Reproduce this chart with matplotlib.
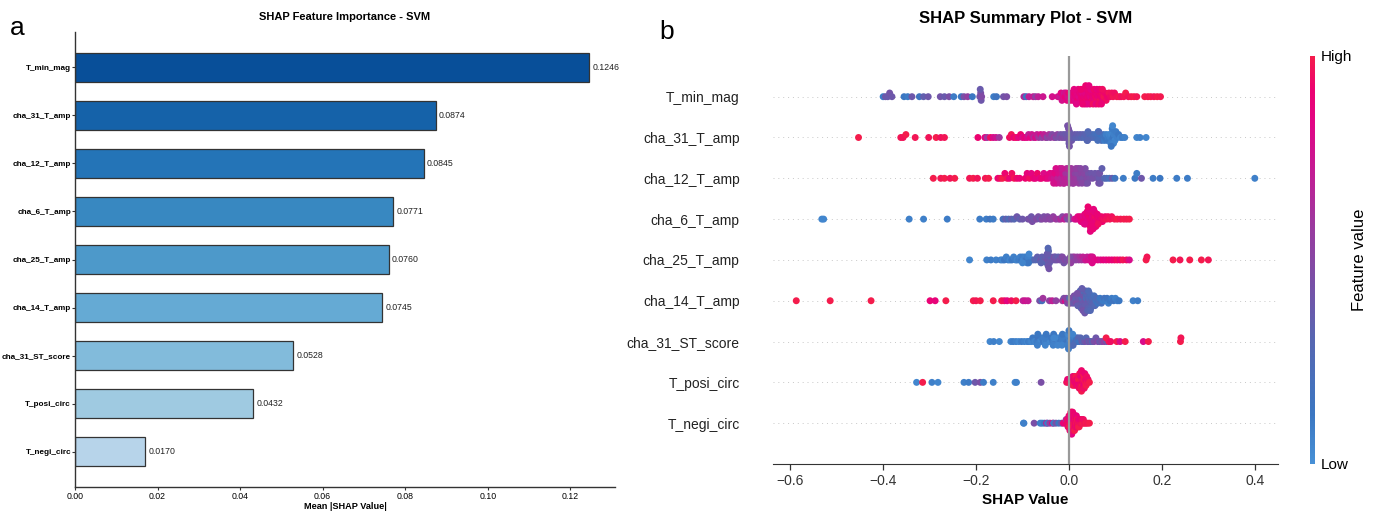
#
# SHAP feature importance (bar) and SHAP summary (beeswarm) for the SVM model.
#

import numpy as np
import matplotlib
matplotlib.use('Agg')
import matplotlib.pyplot as plt
from matplotlib.colors import LinearSegmentedColormap, Normalize
from matplotlib.cm import ScalarMappable

plt.rcParams['font.family'] = ['Liberation Sans', 'DejaVu Sans']

features = ['T_min_mag', 'cha_31_T_amp', 'cha_12_T_amp', 'cha_6_T_amp', 'cha_25_T_amp',
            'cha_14_T_amp', 'cha_31_ST_score', 'T_posi_circ', 'T_negi_circ']
mean_abs_shap = [0.1246, 0.0874, 0.0845, 0.0771, 0.0760, 0.0745, 0.0528, 0.0432, 0.0170]

# (shap value, normalised feature value)
pts_T_min_mag = [
    (-0.400, 0.10), (-0.395, 0.40), (-0.390, 0.38), (-0.386, 0.42), (-0.381, 0.40),
    (-0.355, 0.12), (-0.347, 0.10), (-0.338, 0.40), (-0.322, 0.15), (-0.313, 0.35),
    (-0.303, 0.40), (-0.277, 0.42), (-0.268, 0.38), (-0.258, 0.45), (-0.248, 0.10),
    (-0.232, 0.12), (-0.226, 0.45), (-0.218, 0.55), (-0.208, 0.12), (-0.192, 0.42),
    (-0.190, 0.45), (-0.189, 0.40), (-0.188, 0.48), (-0.191, 0.38), (-0.162, 0.10),
    (-0.156, 0.15), (-0.141, 0.42), (-0.134, 0.45), (-0.097, 0.65), (-0.092, 0.15),
    (-0.086, 0.70), (-0.077, 0.72), (-0.072, 0.55), (-0.066, 0.70), (-0.056, 0.75),
    (-0.036, 0.78), (-0.024, 0.80), (-0.020, 0.72), (-0.017, 0.85), (-0.015, 0.78),
    (-0.012, 0.82), (-0.010, 0.75), (-0.008, 0.88), (-0.006, 0.80), (-0.004, 0.85),
    (-0.002, 0.78), (0.000, 0.90), (0.002, 0.82), (0.004, 0.86), (0.006, 0.80),
    (0.008, 0.88), (0.010, 0.84), (0.012, 0.90), (0.013, 0.82), (0.015, 0.87),
    (0.017, 0.85), (0.019, 0.92), (0.021, 0.83), (0.023, 0.88), (0.025, 0.86),
    (0.027, 0.90), (0.028, 0.84), (0.030, 0.92), (0.031, 0.86), (0.033, 0.89),
    (0.035, 0.85), (0.037, 0.93), (0.038, 0.87), (0.040, 0.90), (0.042, 0.88),
    (0.044, 0.92), (0.046, 0.86), (0.048, 0.90), (0.050, 0.94), (0.051, 0.88),
    (0.053, 0.91), (0.055, 0.87), (0.057, 0.93), (0.059, 0.90), (0.061, 0.95),
    (0.063, 0.89), (0.065, 0.92), (0.067, 0.96), (0.069, 0.91), (0.071, 0.94),
    (0.073, 0.90), (0.075, 0.97), (0.078, 0.93), (0.080, 0.95), (0.083, 0.92),
    (0.086, 0.97), (0.089, 0.94), (0.092, 0.96), (0.095, 0.98), (0.098, 0.95),
    (0.020, 0.88), (0.026, 0.92), (0.034, 0.86), (0.041, 0.90), (0.047, 0.85),
    (0.054, 0.93), (0.060, 0.88), (0.066, 0.91), (0.072, 0.95), (0.045, 0.89),
    (0.039, 0.84), (0.052, 0.96), (0.058, 0.87), (0.064, 0.94), (0.070, 0.90),
    (0.011, 0.86), (0.016, 0.83), (0.029, 0.90), (0.036, 0.92), (0.043, 0.87),
    (0.103, 0.97), (0.108, 0.99), (0.112, 0.96), (0.118, 0.98), (0.122, 1.00),
    (0.128, 0.97), (0.134, 0.99), (0.140, 1.00), (0.146, 0.98), (0.163, 1.00),
    (0.170, 0.99), (0.176, 1.00), (0.183, 0.98), (0.190, 1.00), (0.197, 0.99),
]

pts_cha_31_T_amp = [
    (-0.453, 1.00), (-0.362, 0.98), (-0.357, 0.97), (-0.351, 1.00), (-0.331, 0.98),
    (-0.302, 0.97), (-0.286, 1.00), (-0.276, 0.96), (-0.268, 0.98), (-0.196, 0.92),
    (-0.181, 0.85), (-0.176, 0.60), (-0.169, 0.95), (-0.163, 0.80), (-0.157, 0.75),
    (-0.150, 0.60), (-0.128, 0.95), (-0.124, 0.97), (-0.119, 0.90), (-0.114, 0.95),
    (-0.109, 0.85), (-0.104, 0.92), (-0.100, 0.80), (-0.095, 0.88), (-0.090, 0.82),
    (-0.087, 0.70), (-0.083, 0.85), (-0.080, 0.75), (-0.076, 0.65), (-0.072, 0.80),
    (-0.069, 0.72), (-0.065, 0.60), (-0.061, 0.78), (-0.058, 0.55), (-0.054, 0.70),
    (-0.050, 0.65), (-0.047, 0.50), (-0.043, 0.62), (-0.040, 0.55), (-0.036, 0.48),
    (-0.032, 0.58), (-0.028, 0.45), (-0.025, 0.52), (-0.021, 0.45), (-0.018, 0.42),
    (-0.015, 0.48), (-0.012, 0.40), (-0.010, 0.45), (-0.007, 0.38), (-0.004, 0.42),
    (-0.002, 0.40), (0.000, 0.44), (0.001, 0.38), (0.002, 0.42), (0.004, 0.36),
    (0.006, 0.40), (0.009, 0.35), (0.012, 0.38), (0.015, 0.33), (0.018, 0.36),
    (0.021, 0.32), (0.024, 0.35), (0.027, 0.30), (0.030, 0.34), (0.033, 0.28),
    (0.036, 0.32), (0.039, 0.26), (0.042, 0.30), (0.045, 0.24), (0.048, 0.28),
    (0.051, 0.22), (0.054, 0.26), (0.057, 0.20), (0.060, 0.24), (0.062, 0.18),
    (0.065, 0.22), (0.067, 0.15), (0.070, 0.20), (0.072, 0.12), (0.074, 0.18),
    (0.076, 0.10), (0.078, 0.15), (0.080, 0.08), (0.082, 0.12), (0.084, 0.10),
    (0.086, 0.06), (0.088, 0.12), (0.089, 0.08), (0.091, 0.05), (0.092, 0.10),
    (0.094, 0.06), (0.095, 0.12), (0.097, 0.08), (0.099, 0.05), (0.101, 0.10),
    (0.104, 0.08), (0.107, 0.12), (0.111, 0.06), (0.115, 0.10), (0.120, 0.08),
    (0.000, 0.40), (-0.001, 0.45), (0.001, 0.42), (0.090, 0.08), (0.093, 0.10),
    (0.096, 0.06), (0.091, 0.12), (0.094, 0.05), (0.062, 0.20), (0.063, 0.16),
    (0.064, 0.25), (0.040, 0.30), (0.041, 0.28), (-0.003, 0.44),
    (0.146, 0.06), (0.153, 0.08), (0.166, 0.05),
]

pts_cha_12_T_amp = [
    (-0.292, 1.00), (-0.276, 0.98), (-0.268, 1.00), (-0.256, 0.97), (-0.246, 1.00),
    (-0.214, 0.98), (-0.206, 1.00), (-0.197, 0.97), (-0.180, 0.98), (-0.173, 1.00),
    (-0.153, 0.90), (-0.148, 0.95), (-0.143, 1.00), (-0.138, 0.92), (-0.133, 0.97),
    (-0.128, 0.90), (-0.123, 0.95), (-0.118, 0.98), (-0.112, 0.93), (-0.106, 0.90),
    (-0.094, 0.92), (-0.090, 0.88), (-0.085, 0.95), (-0.081, 0.85), (-0.076, 0.90),
    (-0.072, 0.87), (-0.068, 0.93), (-0.063, 0.85), (-0.059, 0.90), (-0.054, 0.82),
    (-0.050, 0.88), (-0.045, 0.85), (-0.041, 0.85), (-0.038, 0.80), (-0.035, 0.82),
    (-0.032, 0.75), (-0.030, 0.85), (-0.027, 0.78), (-0.024, 0.70), (-0.022, 0.80),
    (-0.019, 0.72), (-0.017, 0.68), (-0.014, 0.75), (-0.012, 0.65), (-0.009, 0.70),
    (-0.007, 0.62), (-0.004, 0.68), (-0.002, 0.60), (0.001, 0.65), (0.003, 0.58),
    (0.006, 0.62), (0.008, 0.55), (0.011, 0.60), (0.013, 0.52), (0.016, 0.58),
    (0.018, 0.50), (0.021, 0.55), (0.024, 0.48), (0.027, 0.52), (0.030, 0.45),
    (0.033, 0.50), (0.036, 0.45), (0.039, 0.48), (0.042, 0.42), (0.045, 0.46),
    (0.048, 0.40), (0.051, 0.44), (0.056, 0.40), (0.062, 0.42), (0.063, 0.40),
    (0.064, 0.45), (0.065, 0.38), (0.066, 0.42), (0.067, 0.40), (0.071, 0.35),
    (0.076, 0.30), (0.081, 0.25), (0.087, 0.20), (0.093, 0.38), (0.099, 0.15),
    (-0.020, 0.75), (-0.010, 0.68), (0.000, 0.62), (0.010, 0.58), (0.020, 0.52),
    (0.028, 0.50), (0.035, 0.46), (-0.028, 0.80), (-0.005, 0.66), (0.005, 0.60),
    (0.015, 0.55), (0.025, 0.50), (-0.015, 0.72), (0.040, 0.44), (-0.033, 0.78),
    (0.117, 0.10), (0.142, 0.12), (0.146, 0.10), (0.156, 0.40), (0.181, 0.10),
    (0.196, 0.12), (0.232, 0.10), (0.255, 0.10), (0.400, 0.08),
]

pts_cha_6_T_amp = [
    (-0.532, 0.05), (-0.528, 0.05), (-0.344, 0.08), (-0.313, 0.08), (-0.262, 0.10),
    (-0.192, 0.10), (-0.178, 0.10), (-0.170, 0.15), (-0.163, 0.10), (-0.142, 0.20),
    (-0.136, 0.35), (-0.130, 0.25), (-0.124, 0.35), (-0.118, 0.30), (-0.112, 0.40),
    (-0.106, 0.35), (-0.100, 0.40), (-0.088, 0.42), (-0.084, 0.45), (-0.081, 0.40),
    (-0.079, 0.45), (-0.075, 0.42), (-0.070, 0.48), (-0.066, 0.45), (-0.062, 0.40),
    (-0.058, 0.50), (-0.054, 0.45), (-0.050, 0.50), (-0.046, 0.48), (-0.042, 0.52),
    (-0.038, 0.50), (-0.034, 0.55), (-0.028, 0.60), (-0.022, 0.55), (-0.018, 0.65),
    (-0.014, 0.50), (-0.010, 0.70), (-0.006, 0.62), (-0.003, 0.45), (0.000, 0.60),
    (0.002, 0.50), (0.012, 0.75), (0.016, 0.80), (0.019, 0.85), (0.022, 0.82),
    (0.024, 0.88), (0.026, 0.85), (0.028, 0.90), (0.030, 0.82), (0.032, 0.88),
    (0.034, 0.86), (0.035, 0.90), (0.037, 0.84), (0.038, 0.88), (0.040, 0.92),
    (0.041, 0.85), (0.043, 0.90), (0.044, 0.87), (0.045, 0.93), (0.047, 0.88),
    (0.048, 0.90), (0.050, 0.86), (0.051, 0.92), (0.053, 0.88), (0.054, 0.90),
    (0.056, 0.94), (0.057, 0.87), (0.059, 0.91), (0.060, 0.89), (0.062, 0.93),
    (0.064, 0.90), (0.066, 0.95), (0.068, 0.91), (0.070, 0.94), (0.072, 0.92),
    (0.036, 0.87), (0.039, 0.90), (0.042, 0.88), (0.046, 0.91), (0.049, 0.89),
    (0.052, 0.93), (0.055, 0.86), (0.058, 0.92), (0.044, 0.85), (0.047, 0.94),
    (0.050, 0.90), (0.053, 0.87), (0.041, 0.92), (0.061, 0.90), (0.033, 0.84),
    (0.063, 0.95), (0.046, 0.86), (0.052, 0.90),
    (0.075, 0.96), (0.078, 0.93), (0.081, 0.97), (0.084, 0.95), (0.088, 0.98),
    (0.092, 0.96), (0.098, 0.98), (0.104, 1.00), (0.111, 0.98), (0.118, 1.00),
    (0.124, 0.99), (0.130, 1.00),
]

pts_cha_25_T_amp = [
    (-0.214, 0.05), (-0.177, 0.08), (-0.168, 0.10), (-0.157, 0.08), (-0.147, 0.10),
    (-0.143, 0.05), (-0.139, 0.12), (-0.135, 0.08), (-0.131, 0.10), (-0.127, 0.05),
    (-0.123, 0.12), (-0.119, 0.08), (-0.115, 0.10), (-0.112, 0.06), (-0.108, 0.10),
    (-0.105, 0.08), (-0.102, 0.12), (-0.100, 0.10), (-0.098, 0.05), (-0.095, 0.08),
    (-0.092, 0.15), (-0.089, 0.10), (-0.085, 0.20), (-0.081, 0.12), (-0.077, 0.25),
    (-0.090, 0.10), (-0.088, 0.08), (-0.087, 0.12), (-0.086, 0.05), (-0.100, 0.06),
    (-0.072, 0.30), (-0.068, 0.35), (-0.065, 0.30), (-0.061, 0.40), (-0.058, 0.35),
    (-0.055, 0.30), (-0.052, 0.40), (-0.050, 0.35), (-0.048, 0.30), (-0.046, 0.42),
    (-0.044, 0.38), (-0.042, 0.35), (-0.040, 0.40), (-0.038, 0.32), (-0.035, 0.40),
    (-0.046, 0.35), (-0.045, 0.40), (-0.044, 0.32), (-0.047, 0.38), (-0.043, 0.42),
    (-0.045, 0.30), (-0.060, 0.32), (-0.030, 0.40), (-0.015, 0.44),
    (-0.032, 0.45), (-0.029, 0.38), (-0.026, 0.42), (-0.023, 0.35), (-0.020, 0.45),
    (-0.017, 0.40), (-0.014, 0.48), (-0.011, 0.42), (-0.008, 0.50), (-0.005, 0.45),
    (0.002, 0.50), (0.005, 0.45), (0.008, 0.55), (0.010, 0.50), (0.012, 0.60),
    (0.003, 0.48), (0.004, 0.55), (0.050, 0.80), (0.052, 0.75),
    (0.015, 0.52), (0.018, 0.58), (0.021, 0.55), (0.024, 0.62), (0.027, 0.60),
    (0.030, 0.70), (0.033, 0.62), (0.036, 0.75), (0.039, 0.70), (0.042, 0.78),
    (0.045, 0.72), (0.048, 0.80), (0.050, 0.82), (0.051, 0.78), (0.056, 0.82),
    (0.062, 0.85), (0.068, 0.80), (0.074, 0.88), (0.080, 0.85), (0.086, 0.90),
    (0.092, 0.88), (0.098, 0.92), (0.104, 0.95), (0.110, 0.90), (0.116, 0.98),
    (0.124, 0.95), (0.130, 0.80), (0.166, 1.00), (0.168, 0.98), (0.224, 1.00),
    (0.239, 0.98), (0.260, 1.00), (0.285, 1.00), (0.300, 0.98),
]

pts_cha_14_T_amp = [
    (-0.587, 1.00), (-0.514, 1.00), (-0.426, 1.00), (-0.299, 0.90), (-0.288, 0.88),
    (-0.265, 1.00), (-0.206, 1.00), (-0.200, 0.98), (-0.191, 1.00), (-0.163, 1.00),
    (-0.145, 0.98), (-0.139, 0.95), (-0.133, 0.85), (-0.124, 0.95), (-0.114, 1.00),
    (-0.099, 0.70), (-0.094, 0.75), (-0.088, 0.72), (-0.063, 0.45), (-0.058, 0.20),
    (-0.056, 0.60), (-0.042, 0.55), (-0.036, 0.70), (-0.028, 0.55), (-0.014, 0.60),
    (-0.011, 0.45), (-0.008, 0.80), (-0.006, 0.50), (-0.003, 0.45), (-0.001, 0.55),
    (0.001, 0.30), (0.003, 0.50), (0.005, 0.42), (0.007, 0.48), (0.009, 0.38),
    (0.011, 0.45), (0.013, 0.40), (0.015, 0.35), (0.016, 0.45), (0.018, 0.40),
    (0.019, 0.30), (0.021, 0.42), (0.022, 0.38), (0.024, 0.45), (0.025, 0.35),
    (0.027, 0.40), (0.028, 0.30), (0.030, 0.38), (0.031, 0.42), (0.033, 0.35),
    (0.034, 0.30), (0.036, 0.40), (0.037, 0.25), (0.039, 0.35), (0.040, 0.30),
    (0.042, 0.38), (0.043, 0.28), (0.045, 0.33), (0.046, 0.22), (0.048, 0.30),
    (0.020, 0.36), (0.023, 0.40), (0.026, 0.32), (0.029, 0.38), (0.032, 0.30),
    (0.035, 0.36), (0.038, 0.28), (0.041, 0.33), (0.044, 0.25), (0.047, 0.30),
    (0.024, 0.28), (0.030, 0.42), (0.036, 0.34), (0.042, 0.26), (0.028, 0.36),
    (0.034, 0.40), (0.040, 0.32), (0.046, 0.28), (0.018, 0.44), (0.052, 0.22),
    (0.050, 0.25), (0.052, 0.32), (0.054, 0.20), (0.056, 0.28), (0.058, 0.18),
    (0.060, 0.25), (0.062, 0.15), (0.064, 0.22), (0.067, 0.12), (0.070, 0.20),
    (0.073, 0.10), (0.076, 0.18), (0.079, 0.10), (0.082, 0.15), (0.085, 0.08),
    (0.088, 0.12), (0.092, 0.10), (0.096, 0.15), (0.100, 0.08), (0.104, 0.10),
    (0.108, 0.12), (0.138, 0.08), (0.148, 0.10),
]

pts_cha_31_ST_score = [
    (-0.170, 0.05), (-0.162, 0.08), (-0.150, 0.05), (-0.125, 0.05), (-0.120, 0.10),
    (-0.114, 0.08), (-0.108, 0.05), (-0.102, 0.10), (-0.096, 0.08), (-0.090, 0.05),
    (-0.087, 0.10), (-0.084, 0.08), (-0.081, 0.05), (-0.078, 0.12), (-0.075, 0.08),
    (-0.072, 0.05), (-0.069, 0.10), (-0.066, 0.15), (-0.063, 0.08), (-0.060, 0.05),
    (-0.058, 0.10), (-0.055, 0.12), (-0.053, 0.08), (-0.050, 0.05), (-0.048, 0.10),
    (-0.045, 0.15), (-0.043, 0.08), (-0.040, 0.05), (-0.038, 0.12), (-0.035, 0.10),
    (-0.033, 0.08), (-0.030, 0.05), (-0.028, 0.15), (-0.025, 0.10), (-0.023, 0.08),
    (-0.020, 0.05), (-0.018, 0.12), (-0.015, 0.10), (-0.013, 0.20), (-0.010, 0.08),
    (-0.008, 0.05), (-0.006, 0.12), (-0.004, 0.10), (-0.002, 0.15), (0.000, 0.08),
    (0.002, 0.05), (0.004, 0.12), (0.006, 0.20), (0.008, 0.10), (0.010, 0.15),
    (0.012, 0.08), (0.014, 0.25), (0.016, 0.12), (0.018, 0.20), (0.020, 0.30),
    (0.022, 0.15), (-0.052, 0.10), (-0.051, 0.06), (-0.049, 0.12), (-0.034, 0.08),
    (-0.033, 0.12), (-0.032, 0.05), (-0.016, 0.10), (-0.015, 0.06), (-0.014, 0.12),
    (-0.003, 0.08), (-0.002, 0.05), (-0.001, 0.10), (0.000, 0.12), (0.007, 0.15),
    (0.008, 0.06), (0.009, 0.25), (-0.068, 0.08), (-0.067, 0.12), (-0.024, 0.06),
    (0.025, 0.30), (0.028, 0.35), (0.031, 0.25), (0.034, 0.40), (0.037, 0.30),
    (0.040, 0.45), (0.043, 0.35), (0.046, 0.40), (0.050, 0.30), (0.054, 0.45),
    (0.058, 0.40), (0.062, 0.50), (0.066, 0.38), (0.071, 0.45), (0.076, 0.55),
    (0.081, 0.40), (0.080, 1.00), (0.086, 0.98), (0.090, 0.95), (0.103, 1.00),
    (0.110, 0.80), (0.121, 1.00), (0.160, 0.80), (0.171, 1.00), (0.240, 1.00),
    (0.241, 0.98),
]

pts_T_posi_circ = [
    (-0.328, 0.05), (-0.315, 1.00), (-0.295, 0.08), (-0.282, 0.05), (-0.226, 0.08),
    (-0.216, 0.10), (-0.202, 0.40), (-0.191, 0.45), (-0.184, 0.10), (-0.163, 0.08),
    (-0.116, 0.05), (-0.113, 0.08), (-0.060, 0.45),
    (-0.005, 0.95), (-0.003, 0.90), (-0.001, 0.98), (0.001, 0.92), (0.003, 0.96),
    (0.004, 0.90), (0.005, 1.00), (0.007, 0.94), (0.008, 0.98), (0.008, 0.90),
    (0.009, 0.96), (0.011, 0.92), (0.012, 1.00), (0.012, 0.95), (0.013, 0.90),
    (0.015, 0.97), (0.016, 0.92), (0.016, 1.00), (0.017, 0.94), (0.017, 0.88),
    (0.019, 0.96), (0.020, 0.92), (0.020, 1.00), (0.021, 0.90), (0.021, 0.97),
    (0.022, 0.94), (0.023, 0.98), (0.024, 0.92), (0.024, 1.00), (0.025, 0.95),
    (0.025, 0.90), (0.026, 0.97), (0.026, 0.93), (0.027, 0.99), (0.028, 0.92),
    (0.028, 0.96), (0.029, 1.00), (0.029, 0.90), (0.030, 0.95), (0.030, 0.98),
    (0.027, 0.93), (0.031, 0.94), (0.032, 0.98), (0.032, 0.91), (0.033, 1.00),
    (0.033, 0.95), (0.034, 0.92), (0.035, 0.97), (0.036, 0.93), (0.037, 1.00),
    (0.038, 0.95), (0.039, 0.98), (0.041, 0.94), (0.044, 1.00),
]

pts_T_negi_circ = [
    (-0.098, 0.05), (-0.097, 0.08), (-0.075, 0.45), (-0.062, 0.10), (-0.058, 0.08),
    (-0.053, 0.12), (-0.048, 0.80), (-0.046, 0.10), (-0.041, 0.55), (-0.035, 0.90),
    (-0.033, 0.10), (-0.028, 0.45), (-0.022, 0.15), (-0.016, 0.40), (-0.012, 0.90),
    (-0.008, 0.85), (-0.006, 0.92), (-0.006, 0.60), (-0.004, 0.95), (-0.004, 0.88),
    (-0.002, 0.90), (-0.002, 0.97), (-0.002, 0.85), (0.000, 0.93), (0.000, 0.88),
    (0.000, 1.00), (0.000, 0.90), (0.002, 0.95), (0.002, 0.86), (0.002, 0.98),
    (0.002, 0.92), (0.002, 0.89), (0.004, 0.96), (0.004, 0.90), (0.004, 1.00),
    (0.004, 0.87), (0.004, 0.93), (0.004, 0.97), (0.006, 0.91), (0.006, 0.99),
    (0.006, 0.88), (0.006, 0.95), (0.006, 0.92), (0.006, 1.00), (0.006, 0.86),
    (0.008, 0.94), (0.008, 0.90), (0.008, 0.98), (0.008, 0.87), (0.008, 0.95),
    (0.008, 0.92), (0.010, 0.96), (0.010, 0.89), (0.010, 1.00), (0.010, 0.93),
    (0.010, 0.90), (0.012, 0.97), (0.012, 0.91), (0.012, 0.95), (0.012, 0.88),
    (0.012, 1.00), (0.014, 0.93), (0.014, 0.97), (0.014, 0.90), (0.014, 0.95),
    (0.016, 0.98), (0.016, 0.92), (0.016, 0.96), (0.016, 0.89), (0.018, 0.94),
    (0.018, 1.00), (0.018, 0.91), (0.020, 0.97), (0.020, 0.93), (0.020, 0.99),
    (0.022, 0.95), (0.022, 0.90), (0.022, 1.00), (0.025, 0.96), (0.025, 0.92),
    (0.028, 0.98), (0.028, 0.94), (0.031, 1.00), (0.031, 0.95), (0.034, 0.97),
    (0.037, 1.00), (0.040, 0.98), (0.044, 1.00),
]

swarm_rows = [pts_T_min_mag, pts_cha_31_T_amp, pts_cha_12_T_amp, pts_cha_6_T_amp,
              pts_cha_25_T_amp, pts_cha_14_T_amp, pts_cha_31_ST_score,
              pts_T_posi_circ, pts_T_negi_circ]

feat_cmap = LinearSegmentedColormap.from_list('feat', [
    (0.00, '#4790d6'), (0.12, '#3b77c2'), (0.30, '#5667b2'), (0.45, '#7a4fa6'),
    (0.58, '#9a3a9f'), (0.72, '#c41b93'), (0.84, '#e20584'), (0.92, '#ec0270'),
    (1.00, '#f41c4c')])


def swarm_offsets(vals, nbins=100, row_height=0.4):
    # same binning/stacking idea as shap's beeswarm
    vals = np.asarray(vals)
    quant = np.round(nbins * (vals - vals.min()) / (vals.max() - vals.min() + 1e-8))
    inds = np.argsort(quant, kind='stable')
    ys = np.zeros(len(vals))
    layer = 0
    last_bin = -1
    for i in inds:
        if quant[i] != last_bin:
            layer = 0
        ys[i] = np.ceil(layer / 2) * ((layer % 2) * 2 - 1)
        layer += 1
        last_bin = quant[i]
    ys *= 0.9 * (row_height / np.max(ys + 1))
    return ys


fig = plt.figure(figsize=(13.76, 5.14), dpi=100)

# ---- a: bar chart ----
ax1 = fig.add_axes([0.0545, 0.0525, 0.3924, 0.885])
n = len(features)
ypos = np.arange(n)
bar_colors = plt.cm.Blues(np.linspace(0.88, 0.3, n))
ax1.barh(ypos, mean_abs_shap, height=0.6, color=bar_colors, edgecolor='#333333', linewidth=0.9)
for y, v in zip(ypos, mean_abs_shap):
    ax1.text(v + 0.0008, y, f'{v:.4f}', va='center', ha='left', fontsize=6.3, color='#222222')
ax1.invert_yaxis()
ax1.set_yticks(ypos)
ax1.set_yticklabels(features, fontsize=5.9, fontweight='bold')
ax1.set_xlim(0, max(mean_abs_shap) * 1.05)
ax1.set_xticks(np.arange(0, 0.121, 0.02))
ax1.set_xticklabels([f'{t:.2f}' for t in np.arange(0, 0.121, 0.02)], fontsize=6.3)
ax1.tick_params(axis='y', length=2, width=0.8, color='#333333', pad=0.8)
ax1.tick_params(axis='x', length=2.5, width=0.8, color='#333333', pad=1)
ax1.set_xlabel('Mean |SHAP Value|', fontsize=6.6, fontweight='bold', labelpad=1)
ax1.set_title('SHAP Feature Importance - SVM', fontsize=8, fontweight='bold', pad=9)
for s in ['top', 'right']:
    ax1.spines[s].set_visible(False)
for s in ['left', 'bottom']:
    ax1.spines[s].set_color('#333333')
    ax1.spines[s].set_linewidth(1.0)

# ---- b: beeswarm ----
ax2 = fig.add_axes([0.5618, 0.0973, 0.367, 0.794])
for k, pts in enumerate(swarm_rows):
    row = n - 1 - k
    sv = np.array([p[0] for p in pts])
    fv = np.array([p[1] for p in pts])
    ax2.axhline(row, color='#c8c8c8', lw=0.7, dashes=(1, 4), zorder=0)
    ax2.scatter(sv, row + swarm_offsets(sv), c=fv, cmap=feat_cmap, vmin=0, vmax=1,
                s=25, linewidths=0, zorder=2)
ax2.axvline(0, color='#999999', lw=1.6, zorder=3)
ax2.set_ylim(-1, n)
ax2.set_xlim(-0.637, 0.45)
ax2.set_yticks(ypos)
ax2.set_yticklabels(features[::-1], fontsize=10, color='#222222')
ax2.tick_params(axis='y', length=0, pad=24)
ax2.set_xticks([-0.6, -0.4, -0.2, 0.0, 0.2, 0.4])
ax2.tick_params(axis='x', labelsize=10, length=4, width=0.9, color='#333333', labelcolor='#333333')
ax2.set_xlabel('SHAP Value', fontsize=11, fontweight='bold', labelpad=3)
ax2.set_title('SHAP Summary Plot - SVM', fontsize=12, fontweight='bold', pad=24)
for s in ['top', 'right', 'left']:
    ax2.spines[s].set_visible(False)
ax2.spines['bottom'].set_color('#333333')

cax = fig.add_axes([0.952, 0.0973, 0.0036, 0.794])
cb = fig.colorbar(ScalarMappable(norm=Normalize(0, 1), cmap=feat_cmap), cax=cax)
cb.outline.set_visible(False)
cb.set_ticks([0, 1])
cb.set_ticklabels(['Low', 'High'], fontsize=11)
cb.ax.tick_params(length=0, pad=4)
cb.set_label('Feature value', fontsize=12, labelpad=0)

fig.text(0.007, 0.932, 'a', fontsize=19)
fig.text(0.479, 0.924, 'b', fontsize=19)

fig.savefig('out.png', dpi=100)
